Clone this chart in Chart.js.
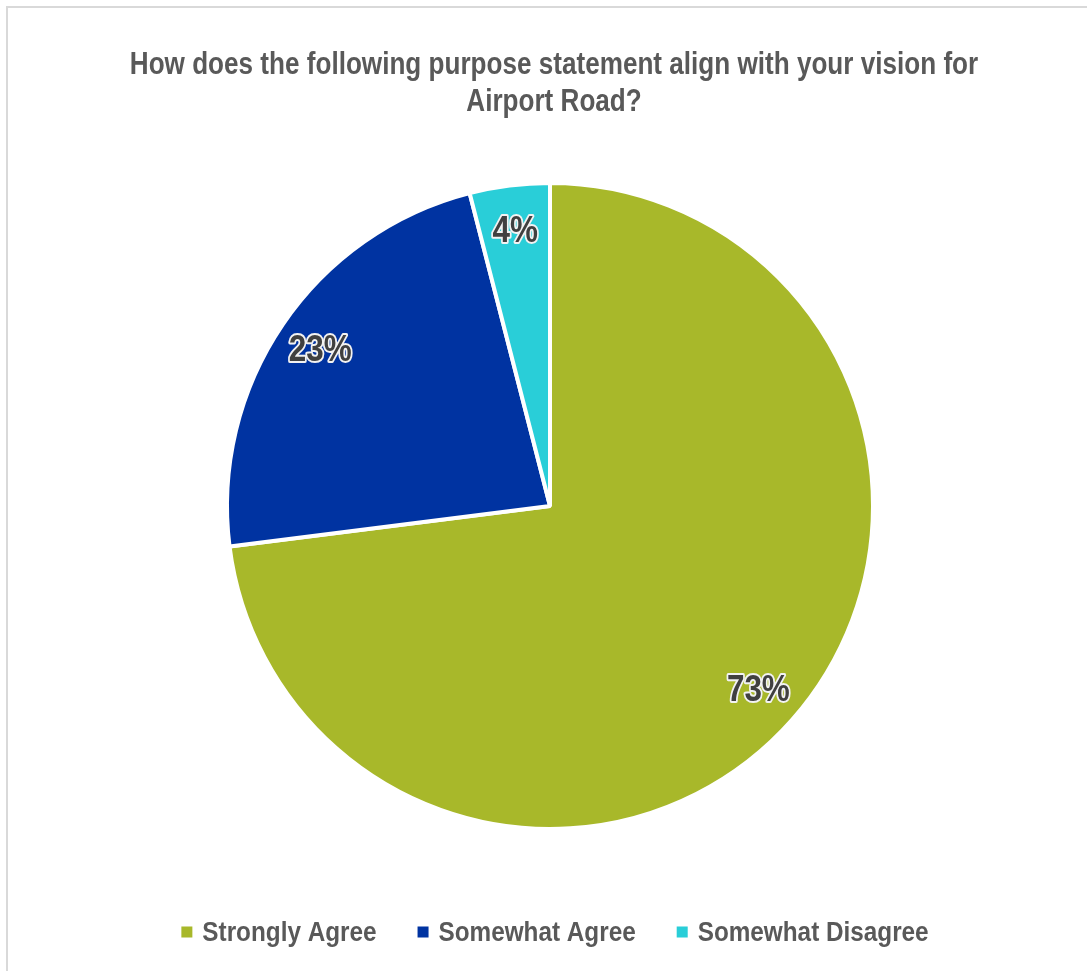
<!DOCTYPE html>
<html>
<head>
<meta charset="utf-8">
<script src="https://cdn.jsdelivr.net/npm/chart.js@4"></script>
<style>
  html, body { margin: 0; padding: 0; background: #fff; }
  #wrap { position: absolute; left: 0; top: 0; width: 1087px; height: 971px; overflow: hidden; }
  #frame { position: absolute; left: 6px; top: 6px; width: 1200px; height: 1200px; border-left: 2px solid #d9d9d9; border-top: 2px solid #d9d9d9; box-sizing: border-box; }
  canvas { position: absolute; left: 0; top: 0; }
</style>
</head>
<body>
<div id="wrap">
  <div id="frame"></div>
  <canvas id="c" width="1087" height="971"></canvas>
</div>
<script>
const titleLines = ["How does the following purpose statement align with your vision for", "Airport Road?"];
const categories = ["Strongly Agree", "Somewhat Agree", "Somewhat Disagree"];
const percentages = [73, 23, 4];
const sliceColors = ["#A8B82A", "#0033A1", "#29CED8"];

const FONT = "'Liberation Sans', Arial, sans-serif";
const TEXT_GRAY = '#595959';

// draw text horizontally condensed (narrow face emulation)
function narrowText(ctx, txt, x, y, sx, align, stroke) {
  ctx.save();
  ctx.translate(x, y);
  ctx.scale(sx, 1);
  ctx.textAlign = align;
  if (stroke) ctx.strokeText(txt, 0, 0);
  ctx.fillText(txt, 0, 0);
  ctx.restore();
}

const titlePlugin = {
  id: 'narrowTitle',
  afterDraw(chart) {
    const ctx = chart.ctx;
    ctx.save();
    ctx.font = "bold 31px " + FONT;
    ctx.fillStyle = TEXT_GRAY;
    ctx.textBaseline = 'alphabetic';
    const cx = 554;
    titleLines.forEach((line, i) => {
      narrowText(ctx, line, cx, 74 + i * 37, 0.842, 'center', false);
    });
    ctx.restore();
  }
};

const legendPlugin = {
  id: 'narrowLegend',
  afterDraw(chart) {
    const ctx = chart.ctx;
    const sx = 0.9, box = 11, gapText = 10, gapItem = 41, cy = 932;
    ctx.save();
    ctx.font = "bold 27px " + FONT;
    ctx.textBaseline = 'alphabetic';
    const labels = chart.data.labels;
    const colors = chart.data.datasets[0].backgroundColor;
    const widths = labels.map(l => ctx.measureText(l).width * sx);
    let total = 0;
    widths.forEach((w, i) => { total += box + gapText + w + (i < widths.length - 1 ? gapItem : 0); });
    let x = 555 - total / 2;
    labels.forEach((l, i) => {
      ctx.fillStyle = colors[i];
      ctx.fillRect(x, cy - box / 2, box, box);
      x += box + gapText;
      ctx.fillStyle = TEXT_GRAY;
      narrowText(ctx, l, x, 941, sx, 'left', false);
      x += widths[i] + gapItem;
    });
    ctx.restore();
  }
};

const labelPlugin = {
  id: 'sliceLabels',
  afterDatasetsDraw(chart) {
    const ctx = chart.ctx;
    const meta = chart.getDatasetMeta(0);
    meta.data.forEach((arc, i) => {
      const p = arc.getProps(['x', 'y', 'startAngle', 'endAngle', 'outerRadius'], true);
      const mid = (p.startAngle + p.endAngle) / 2;
      const r = p.outerRadius * 0.86;
      const x = p.x + Math.cos(mid) * r;
      const y = p.y + Math.sin(mid) * r;
      const txt = chart.data.datasets[0].data[i] + '%';
      ctx.save();
      ctx.font = "bold 37px " + FONT;
      ctx.textBaseline = 'middle';
      ctx.lineJoin = 'round';
      ctx.lineWidth = 4;
      ctx.strokeStyle = '#f2f2f2';
      ctx.fillStyle = '#404040';
      narrowText(ctx, txt, x, y + 1, 0.85, 'center', true);
      ctx.restore();
    });
  }
};

new Chart(document.getElementById('c'), {
  type: 'pie',
  data: {
    labels: categories,
    datasets: [{
      data: percentages,
      backgroundColor: sliceColors,
      borderColor: '#ffffff',
      borderWidth: 4
    }]
  },
  options: {
    responsive: false,
    animation: false,
    layout: { padding: { left: 13, right: 0, top: 181, bottom: 140 } },
    plugins: {
      title: { display: false },
      legend: { display: false },
      tooltip: { enabled: false }
    }
  },
  plugins: [labelPlugin, titlePlugin, legendPlugin]
});
</script>
</body>
</html>
